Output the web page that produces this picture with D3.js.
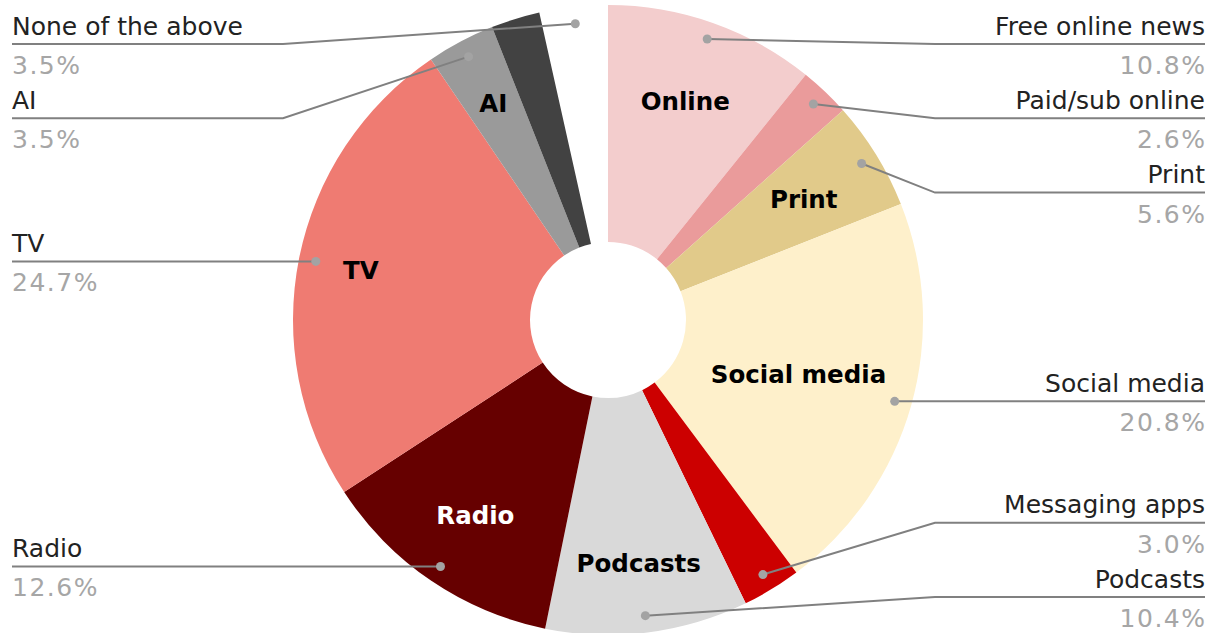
<!DOCTYPE html>
<html>
<head>
  <meta charset="utf-8">
  <script src="https://cdn.jsdelivr.net/npm/d3@7"></script>
  <style>
    body { margin: 0; background: #fff; }
    svg { display: block; font-family: "DejaVu Sans", Verdana, sans-serif; }
  </style>
</head>
<body>
<svg id="chart" width="1214" height="633"></svg>

<script>
  // data, clockwise from 12 o'clock
  var categories = ['Free online news', 'Paid/sub online', 'Print', 'Social media', 'Messaging apps',
    'Podcasts', 'Radio', 'TV', 'AI', 'Other', 'None of the above'];
  var values = [10.8, 2.6, 5.6, 20.8, 3.0, 10.4, 12.6, 24.7, 3.5, 2.5, 3.5];
  var groupLabels = ['Online', '', 'Print', 'Social media', '', 'Podcasts', 'Radio', 'TV', 'AI', '', ''];
  var colors = ['#f3cdcd', '#ea9b9b', '#e1ca8a', '#fef0cb', '#cc0000', '#d9d9d9', '#660000',
    '#ef7b72', '#9a9a9a', '#424242', 'none'];
  var showCallout = [true, true, true, true, true, true, true, true, true, false, true];

  var data = categories.map((c, i) => ({
    name: c, value: values[i], group: groupLabels[i], color: colors[i], callout: showCallout[i]
  }));

  var svg = d3.select('#chart');
  var cx = 608, cy = 320;
  var outerR = 315, innerR = 78, dotR = 298;

  var pie = d3.pie().sort(null).value(d => d.value);
  var arcs = pie(data);

  var arc = d3.arc().innerRadius(innerR).outerRadius(outerR);
  var g = svg.append('g').attr('transform', `translate(${cx},${cy})`);

  g.selectAll('path')
    .data(arcs)
    .join('path')
    .attr('d', arc)
    .attr('fill', d => d.data.color);

  // inner group labels
  var labelR = { 'Online': 232, 'Print': 230, 'Social media': 198, 'Podcasts': 245, 'Radio': 236, 'TV': 252, 'AI': 245 };
  var midAngle = d => (d.startAngle + d.endAngle) / 2;

  g.selectAll('text.group')
    .data(arcs.filter(d => d.data.group))
    .join('text')
    .attr('class', 'group')
    .attr('x', d => Math.sin(midAngle(d)) * labelR[d.data.group])
    .attr('y', d => -Math.cos(midAngle(d)) * labelR[d.data.group])
    .attr('text-anchor', 'middle')
    .attr('dominant-baseline', 'central')
    .attr('font-size', 24.5)
    .attr('font-weight', 'bold')
    .attr('fill', d => d.data.group == 'Radio' ? '#fff' : '#000')
    .text(d => d.data.group);

  // callouts: dot on the slice, stacked label rows on each side
  var callouts = arcs.filter(d => d.data.callout).map(d => {
    var a = midAngle(d);
    return {
      d: d,
      x: cx + Math.sin(a) * dotR,
      y: cy - Math.cos(a) * dotR,
      right: a < Math.PI
    };
  });

  var rowTop = 44, rowBottom = 597, rowGap = 74.3;
  [true, false].forEach(side => {
    var list = callouts.filter(c => c.right == side).sort((a, b) => a.y - b.y);
    var prev = rowTop - rowGap;
    list.forEach(c => { c.ly = Math.max(c.y, prev + rowGap); prev = c.ly; });
    var next = rowBottom + rowGap;
    list.slice().reverse().forEach(c => { c.ly = Math.min(c.ly, next - rowGap); next = c.ly; });
  });

  var leftX = 12, rightX = 1205, elbowL = 283, elbowR = 935;

  var co = svg.append('g');
  co.selectAll('polyline')
    .data(callouts)
    .join('polyline')
    .attr('points', c => c.right
      ? [[c.x, c.y], [Math.max(elbowR, c.x), c.ly], [rightX, c.ly]].join(' ')
      : [[c.x, c.y], [Math.min(elbowL, c.x), c.ly], [leftX, c.ly]].join(' '))
    .attr('fill', 'none')
    .attr('stroke', '#808080')
    .attr('stroke-width', 2);

  co.selectAll('circle')
    .data(callouts)
    .join('circle')
    .attr('cx', c => c.x)
    .attr('cy', c => c.y)
    .attr('r', 4.5)
    .attr('fill', '#a3a3a3');

  co.selectAll('text.name')
    .data(callouts)
    .join('text')
    .attr('class', 'name')
    .attr('x', c => c.right ? rightX : leftX)
    .attr('y', c => c.ly - 9.5)
    .attr('text-anchor', c => c.right ? 'end' : 'start')
    .attr('font-size', 25)
    .attr('fill', '#222')
    .text(c => c.d.data.name);

  co.selectAll('text.val')
    .data(callouts)
    .join('text')
    .attr('class', 'val')
    .attr('x', c => c.right ? rightX + 1.5 : leftX)
    .attr('y', c => c.ly + 30)
    .attr('text-anchor', c => c.right ? 'end' : 'start')
    .attr('font-size', 25)
    .attr('letter-spacing', 1.5)
    .attr('fill', '#a6a6a6')
    .text(c => d3.format('.1f')(c.d.data.value) + '%');
</script>
</body>
</html>
